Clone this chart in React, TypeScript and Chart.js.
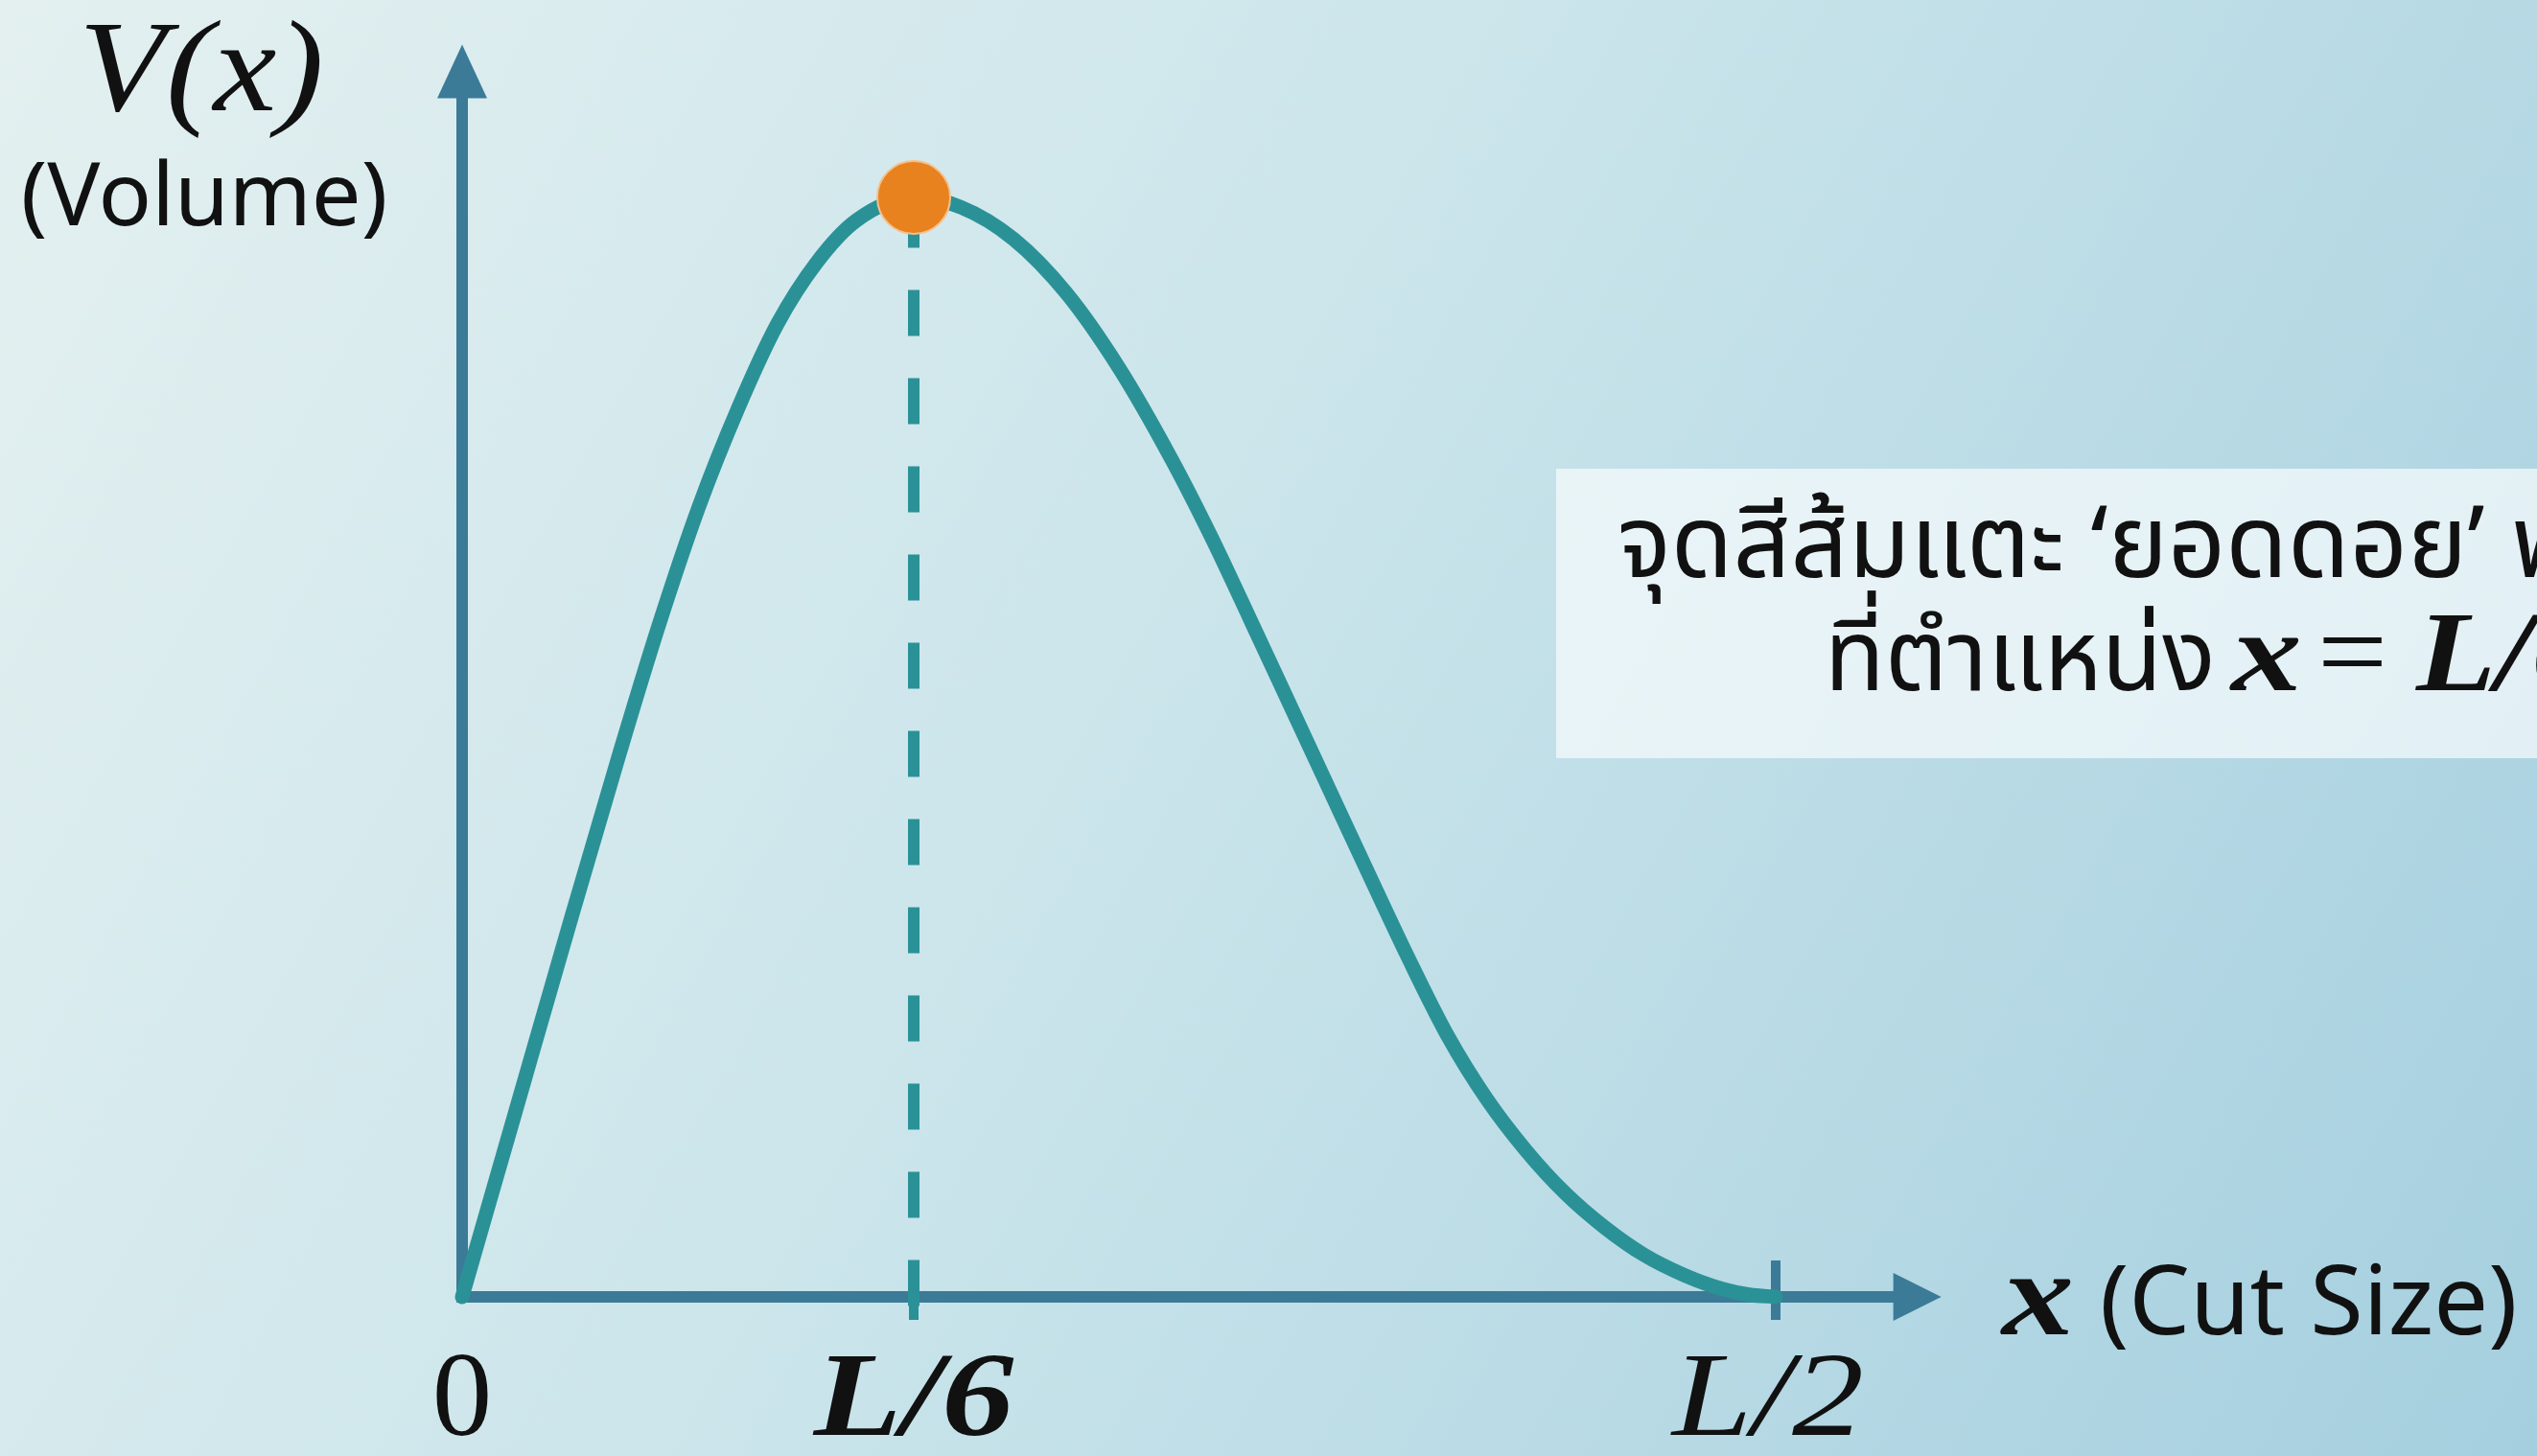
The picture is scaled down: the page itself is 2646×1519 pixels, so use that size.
import React, { useEffect, useRef } from "react";
import { Chart, registerables } from "chart.js";

Chart.register(...registerables);

const W = 2646;
const H = 1519;

// x in units of L (0 .. L/2); V relative to its maximum value
const curveX = [0, 0.02, 0.04, 0.06, 0.075, 0.09, 0.105, 0.12, 0.135, 0.15, 0.1719, 0.19, 0.21, 0.23, 0.25, 0.27, 0.285, 0.3, 0.315, 0.33, 0.345, 0.36, 0.375, 0.39, 0.405, 0.42, 0.435, 0.45, 0.465, 0.48, 0.49, 0.5];
const curveV = [0, 0.166, 0.332, 0.495, 0.612, 0.718, 0.808, 0.885, 0.941, 0.979, 1.0, 0.991, 0.962, 0.913, 0.845, 0.762, 0.692, 0.616, 0.539, 0.462, 0.385, 0.309, 0.238, 0.18, 0.133, 0.094, 0.063, 0.038, 0.02, 0.007, 0.002, 0];

const peakX = 0.1719;
const peakV = 1.0;

const tickValues = [0, peakX, 0.5];
const tickLabels = ["0", "L/6", "L/2"];

const xAxisEnd = 0.563;
const yAxisEnd = 1.139;

const yTitle = "V(x)";
const ySubtitle = "(Volume)";
const xTitleVar = "x";
const xTitleText = "(Cut Size)";
const noteLine1 = "จุดสีส้มแตะ ‘ยอดดอย’ พอดี";
const noteLine2Thai = "ที่ตำแหน่ง";
const noteLine2Math = ["x", "=", "L/6"];

const AXIS = "#3b7b97";
const TEAL = "#2a9297";
const ORANGE = "#e8821f";
const SERIF = '"Liberation Serif", "DejaVu Serif", serif';
const SANS = '"Noto Sans Thai", "Noto Sans", "Open Sans", "DejaVu Sans", sans-serif';

function stretchText(ctx: any, text: string, x: number, y: number, font: string, align: string, sx: number) {
  ctx.save();
  ctx.font = font;
  const w = ctx.measureText(text).width * sx;
  let left = x;
  if (align === "center") left = x - w / 2;
  else if (align === "right") left = x - w;
  ctx.translate(left, y);
  ctx.scale(sx, 1);
  ctx.textAlign = "left";
  ctx.fillText(text, 0, 0);
  ctx.restore();
  return w;
}

const bgPlugin = {
  id: "bg",
  beforeDraw(chart: any) {
    const { ctx, width, height } = chart;
    const g = ctx.createLinearGradient(0, 0, width, height);
    g.addColorStop(0, "#e4f0f0");
    g.addColorStop(0.45, "#cbe5eb");
    g.addColorStop(1, "#a5cfdf");
    ctx.save();
    ctx.fillStyle = g;
    ctx.fillRect(0, 0, width, height);
    ctx.restore();
  },
};

const axesPlugin = {
  id: "axesArrows",
  beforeDatasetsDraw(chart: any) {
    const { ctx } = chart;
    const xs = chart.scales.x;
    const ys = chart.scales.y;
    const ox = xs.getPixelForValue(0);
    const oy = ys.getPixelForValue(0);
    const xe = xs.getPixelForValue(xAxisEnd);
    const ye = ys.getPixelForValue(yAxisEnd);
    ctx.save();
    ctx.strokeStyle = AXIS;
    ctx.fillStyle = AXIS;
    ctx.lineWidth = 12;
    ctx.lineCap = "butt";
    ctx.beginPath();
    ctx.moveTo(ox, oy + 6);
    ctx.lineTo(ox, ye + 50);
    ctx.stroke();
    ctx.beginPath();
    ctx.moveTo(ox, ye);
    ctx.lineTo(ox - 26, ye + 56);
    ctx.lineTo(ox + 26, ye + 56);
    ctx.closePath();
    ctx.fill();
    ctx.beginPath();
    ctx.moveTo(ox - 6, oy);
    ctx.lineTo(xe - 46, oy);
    ctx.stroke();
    ctx.beginPath();
    ctx.moveTo(xe, oy);
    ctx.lineTo(xe - 50, oy - 25);
    ctx.lineTo(xe - 50, oy + 25);
    ctx.closePath();
    ctx.fill();
    ctx.lineWidth = 10;
    [peakX, 0.5].forEach((v, i) => {
      const px = xs.getPixelForValue(v);
      ctx.strokeStyle = i === 0 ? TEAL : AXIS;
      ctx.beginPath();
      ctx.moveTo(px, oy - 38);
      ctx.lineTo(px, oy + 24);
      ctx.stroke();
    });
    ctx.restore();
  },
};

const textPlugin = {
  id: "texts",
  afterDraw(chart: any) {
    const { ctx } = chart;
    const xs = chart.scales.x;
    ctx.save();
    ctx.fillStyle = "#111111";
    ctx.textBaseline = "alphabetic";

    // tick labels
    const tickFonts = [`125px ${SERIF}`, `italic bold 125px ${SERIF}`, `italic 125px ${SERIF}`];
    const tickStretch = [1.0, 1.2, 1.2];
    tickValues.forEach((v, i) => {
      stretchText(ctx, tickLabels[i], xs.getPixelForValue(v) - (i === 2 ? 8 : 0), 1497, tickFonts[i], "center", tickStretch[i]);
    });

    // y title
    stretchText(ctx, yTitle, 210, 115, `italic 135px ${SERIF}`, "center", 1.1);
    ctx.textAlign = "center";
    ctx.font = `92px ${SANS}`;
    ctx.fillText(ySubtitle, 213, 235);

    // x title
    stretchText(ctx, xTitleVar, 2088, 1392, `italic bold 125px ${SERIF}`, "left", 1.2);
    ctx.textAlign = "left";
    ctx.font = `101px ${SANS}`;
    ctx.fillText(xTitleText, 2190, 1392);

    // annotation box
    ctx.fillStyle = "rgba(246,251,252,0.72)";
    ctx.fillRect(1623, 489, W - 1623, 302);
    ctx.fillStyle = "#111111";
    ctx.font = `105px ${SANS}`;
    ctx.fillText(noteLine1, 1687, 602);
    ctx.font = `103px ${SANS}`;
    ctx.fillText(noteLine2Thai, 1903, 720);
    const mathX = [2327, 2417, 2520];
    const mathFonts = [`italic bold 118px ${SERIF}`, `118px ${SERIF}`, `italic bold 118px ${SERIF}`];
    const mathStretch = [1.25, 1.1, 1.15];
    noteLine2Math.forEach((s, i) => {
      stretchText(ctx, s, mathX[i], 720, mathFonts[i], "left", mathStretch[i]);
    });
    ctx.restore();
  },
};

export default function App() {
  const ref = useRef<HTMLCanvasElement | null>(null);
  useEffect(() => {
    if (!ref.current) return;
    const curve = curveX.map((x, i) => ({ x, y: curveV[i] }));
    const chart = new Chart(ref.current, {
      type: "line",
      data: {
        datasets: [
          {
            label: "peak",
            data: [{ x: peakX, y: peakV }],
            showLine: false,
            pointRadius: 38,
            pointBackgroundColor: ORANGE,
            pointBorderColor: "#f4c08c",
            pointBorderWidth: 2,
            clip: false,
          } as any,
          {
            label: "V(x)",
            data: curve,
            borderColor: TEAL,
            borderWidth: 15,
            pointRadius: 0,
            cubicInterpolationMode: "monotone",
            borderCapStyle: "round",
            borderJoinStyle: "round",
            fill: false,
            clip: false,
          } as any,
          {
            label: "x = L/6",
            data: [
              { x: peakX, y: 0.996 },
              { x: peakX, y: -0.015 },
            ],
            borderColor: TEAL,
            borderWidth: 12,
            borderDash: [48, 44],
            pointRadius: 0,
            fill: false,
            clip: false,
          } as any,
        ],
      },
      options: {
        animation: false,
        responsive: false,
        devicePixelRatio: 1,
        layout: { padding: { left: 482, right: W - 1852, top: 206, bottom: H - 1353 } },
        plugins: { legend: { display: false }, tooltip: { enabled: false } },
        scales: {
          x: { type: "linear", min: 0, max: 0.5, display: false },
          y: { type: "linear", min: 0, max: 1, display: false },
        },
      },
      plugins: [bgPlugin, axesPlugin, textPlugin],
    });
    return () => chart.destroy();
  }, []);
  return (
    <div style={{ position: "fixed", left: 0, top: 0, width: W, height: H }}>
      <canvas ref={ref} width={W} height={H} style={{ display: "block" }} />
    </div>
  );
}
